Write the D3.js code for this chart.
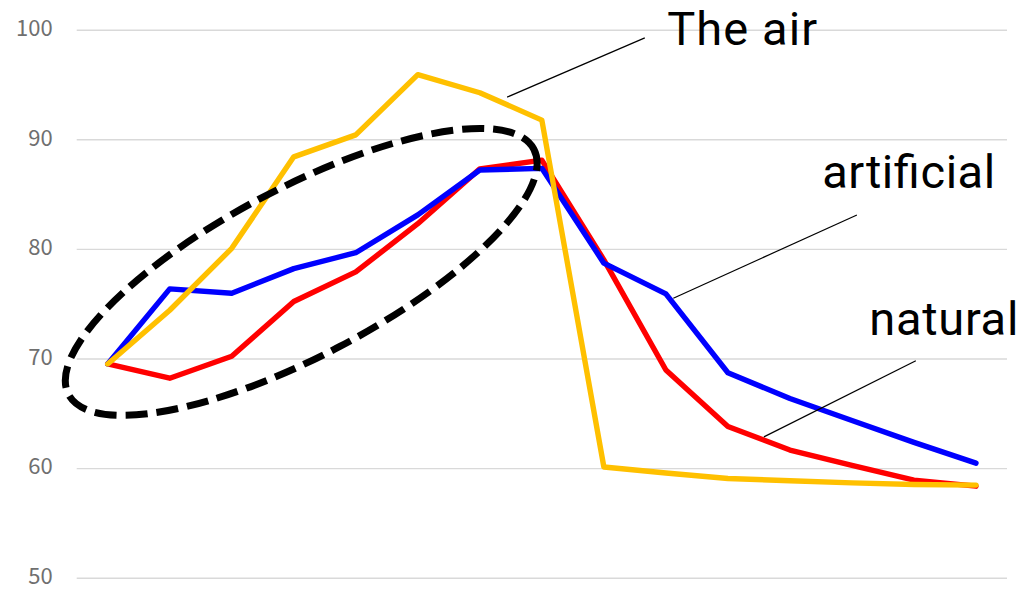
<!DOCTYPE html>
<html>
<head>
<meta charset="utf-8">
<script src="https://cdn.jsdelivr.net/npm/d3@7"></script>
<style>
  html, body { margin: 0; padding: 0; background: #fff; }
  svg { display: block; }
</style>
</head>
<body>
<svg id="chart" width="1025" height="589"></svg>
<script>
// Fifteen sampling steps along the x axis (no category labels are shown)
const categories = d3.range(1, 16).map(String);

// Series values
const naturalValues    = [69.5, 68.2, 70.2, 75.2, 77.9, 82.3, 87.3, 88.1, 79.0, 68.95, 63.8, 61.65, 60.25, 58.9, 58.35];
const artificialValues = [69.5, 76.35, 75.95, 78.2, 79.65, 83.1, 87.2, 87.35, 78.7, 75.9, 68.7, 66.35, 64.35, 62.35, 60.45];
const airValues        = [69.5, 74.4, 80.05, 88.4, 90.4, 95.9, 94.25, 91.75, 60.1, 59.55, 59.05, 58.85, 58.65, 58.5, 58.45];

// Value axis ticks
const yTicks = [50, 60, 70, 80, 90, 100];

// Callout labels, placed in chart units (category index, value)
const calloutNames = ["The air", "artificial", "natural"];
const calloutText  = [[9.02, 98.6], [11.52, 85.55], [12.28, 72.15]];
const calloutFrom  = [[8.66, 99.25], [12.08, 83.1], [13.03, 69.8]];
const calloutTo    = [[6.44, 93.85], [9.12, 75.5], [10.58, 62.85]];

// Dashed oval grouping the rising part of the curves: centre (index, value)
const ovalCentre = [3.12, 77.9];

const svg = d3.select("#chart");

const x = d3.scalePoint()
  .domain(categories)
  .range([76.7, 1007])
  .padding(0.5);

const y = d3.scaleLinear()
  .domain([50, 100])
  .range([577.7, 29.7]);

// chart-unit helper for annotations
const xi = i => x(categories[0]) + i * x.step();

// Horizontal gridlines + value labels
const yAxis = d3.axisLeft(y)
  .tickValues(yTicks)
  .tickSize(-(1007 - 76.7))
  .tickPadding(24);

const gAxis = svg.append("g")
  .attr("transform", "translate(76.7,0)")
  .call(yAxis);
gAxis.select(".domain").remove();
gAxis.selectAll(".tick line")
  .attr("stroke", "#d9d9d9")
  .attr("stroke-width", 1.4);
gAxis.selectAll(".tick text")
  .attr("fill", "#6f6f6f")
  .attr("font-family", "'Noto Sans CJK JP', 'Noto Sans', sans-serif")
  .attr("font-size", 22)
  .attr("dy", "0.26em");

// Series lines
const line = d3.line()
  .x((d, i) => x(categories[i]))
  .y(d => y(d));

const series = [
  { values: naturalValues,    color: "#ff0000" },
  { values: artificialValues, color: "#0000ff" },
  { values: airValues,        color: "#ffc000" }
];

svg.append("g")
  .selectAll("path")
  .data(series)
  .join("path")
  .attr("d", d => line(d.values))
  .attr("fill", "none")
  .attr("stroke", d => d.color)
  .attr("stroke-width", 5.4)
  .attr("stroke-linejoin", "round")
  .attr("stroke-linecap", "round");

// Dashed oval
svg.append("ellipse")
  .attr("cx", 0)
  .attr("cy", 0)
  .attr("rx", 263)
  .attr("ry", 84)
  .attr("transform", `translate(${xi(ovalCentre[0])},${y(ovalCentre[1])}) rotate(-27.8)`)
  .attr("fill", "none")
  .attr("stroke", "#000")
  .attr("stroke-width", 7)
  .attr("stroke-dasharray", "22,9");

// Callout leader lines
const gCall = svg.append("g");
gCall.selectAll("line")
  .data(calloutNames.map((n, i) => ({ from: calloutFrom[i], to: calloutTo[i] })))
  .join("line")
  .attr("x1", d => xi(d.from[0]))
  .attr("y1", d => y(d.from[1]))
  .attr("x2", d => xi(d.to[0]))
  .attr("y2", d => y(d.to[1]))
  .attr("stroke", "#000")
  .attr("stroke-width", 1.2);

// Callout labels
const labelWidths = [150, 173, 149];
gCall.selectAll("text")
  .data(calloutNames.map((n, i) => ({ name: n, pos: calloutText[i], w: labelWidths[i] })))
  .join("text")
  .attr("x", d => xi(d.pos[0]))
  .attr("y", d => y(d.pos[1]))
  .attr("font-family", "Roboto, 'Liberation Sans', sans-serif")
  .attr("font-size", 47)
  .attr("fill", "#000")
  .attr("textLength", d => d.w)
  .attr("lengthAdjust", "spacing")
  .text(d => d.name);
</script>
</body>
</html>
